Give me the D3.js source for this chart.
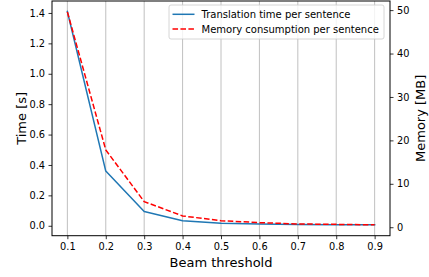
<!DOCTYPE html>
<html>
<head>
<meta charset="utf-8">
<script src="https://cdn.jsdelivr.net/npm/d3@7"></script>
<style>
  body { margin: 0; background: #fff; }
  svg { display: block; font-family: "DejaVu Sans", sans-serif; }
</style>
</head>
<body>
<svg id="chart" width="429" height="277"></svg>
<script>
const thresholds = [0.1, 0.2, 0.3, 0.4, 0.5, 0.6, 0.7, 0.8, 0.9];
const timePerSentence = [1.41, 0.36, 0.094, 0.033, 0.016, 0.011, 0.009, 0.007, 0.006];
const memoryPerSentence = [49.6, 17.8, 5.9, 2.6, 1.5, 1.06, 0.76, 0.66, 0.55];
const xTicks = [0.1, 0.2, 0.3, 0.4, 0.5, 0.6, 0.7, 0.8, 0.9];
const leftTicks = [0.0, 0.2, 0.4, 0.6, 0.8, 1.0, 1.2, 1.4];
const rightTicks = [0, 10, 20, 30, 40, 50];
const seriesNames = ["Translation time per sentence", "Memory consumption per sentence"];
const axisTitles = { x: "Beam threshold", left: "Time [s]", right: "Memory [MB]" };

const svg = d3.select("#chart");
const L = 52, R = 390, T = 1, B = 235.7;

const x = d3.scaleLinear().domain([0.06, 0.94]).range([L, R]);
const yL = d3.scaleLinear().domain([-0.0653, 1.4787]).range([B, T]);
const yR = d3.scaleLinear().domain([-1.95, 52.1]).range([B, T]);

// vertical grid
svg.append("g").selectAll("line").data(xTicks).join("line")
  .attr("x1", d => x(d)).attr("x2", d => x(d))
  .attr("y1", T).attr("y2", B)
  .attr("stroke", "#b0b0b0").attr("stroke-width", 0.8);

// lines
const lineT = d3.line().x((d, i) => x(thresholds[i])).y(d => yL(d));
const lineM = d3.line().x((d, i) => x(thresholds[i])).y(d => yR(d));
svg.append("path").datum(timePerSentence).attr("d", lineT)
  .attr("fill", "none").attr("stroke", "#1f77b4").attr("stroke-width", 1.5)
  .attr("stroke-linejoin", "round").attr("stroke-linecap", "square");
svg.append("path").datum(memoryPerSentence).attr("d", lineM)
  .attr("fill", "none").attr("stroke", "#ff0000").attr("stroke-width", 1.5)
  .attr("stroke-dasharray", "5.55,2.4");

// axes
const fs = 9.8;
const gx = svg.append("g").attr("transform", `translate(0,${B})`)
  .call(d3.axisBottom(x).tickValues(xTicks).tickFormat(d3.format(".1f")).tickSize(3.5).tickPadding(3.5));
const gl = svg.append("g").attr("transform", `translate(${L},0)`)
  .call(d3.axisLeft(yL).tickValues(leftTicks).tickFormat(d3.format(".1f")).tickSize(3.5).tickPadding(3.5));
const gr = svg.append("g").attr("transform", `translate(${R},0)`)
  .call(d3.axisRight(yR).tickValues(rightTicks).tickFormat(d3.format("d")).tickSize(3.5).tickPadding(3.5));
[gx, gl, gr].forEach(g => {
  g.select(".domain").remove();
  g.selectAll("text").attr("font-size", fs).attr("fill", "#000").attr("font-family", "DejaVu Sans");
  g.selectAll("line").attr("stroke", "#000").attr("stroke-width", 0.8);
});

// frame
svg.append("rect").attr("x", L).attr("y", T).attr("width", R - L).attr("height", B - T)
  .attr("fill", "none").attr("stroke", "#000").attr("stroke-width", 1);

// axis titles
svg.append("text").attr("x", (L + R) / 2).attr("y", 266.5).attr("text-anchor", "middle")
  .attr("font-size", 13).text(axisTitles.x);
svg.append("text").attr("transform", `translate(26,${(T + B) / 2}) rotate(-90)`)
  .attr("text-anchor", "middle").attr("font-size", 13).text(axisTitles.left);
svg.append("text").attr("transform", `translate(424.5,${(T + B) / 2}) rotate(-90)`)
  .attr("text-anchor", "middle").attr("font-size", 13).text(axisTitles.right);

// legend
const lg = svg.append("g");
lg.append("rect").attr("x", 169).attr("y", 5).attr("width", 215).attr("height", 34)
  .attr("rx", 2).attr("fill", "#fff").attr("fill-opacity", 0.8)
  .attr("stroke", "#cccccc").attr("stroke-width", 0.8);
const styles = [
  { stroke: "#1f77b4", dash: null },
  { stroke: "#ff0000", dash: "5.55,2.4" }
];
seriesNames.forEach((name, i) => {
  const cy = 14.3 + i * 14.7;
  lg.append("line").attr("x1", 172.5).attr("x2", 194.5).attr("y1", cy).attr("y2", cy)
    .attr("stroke", styles[i].stroke).attr("stroke-width", 1.5)
    .attr("stroke-dasharray", styles[i].dash);
  lg.append("text").attr("x", 201.5).attr("y", cy + 3.6).attr("font-size", 10)
    .attr("fill", "#000").text(name);
});
</script>
</body>
</html>
